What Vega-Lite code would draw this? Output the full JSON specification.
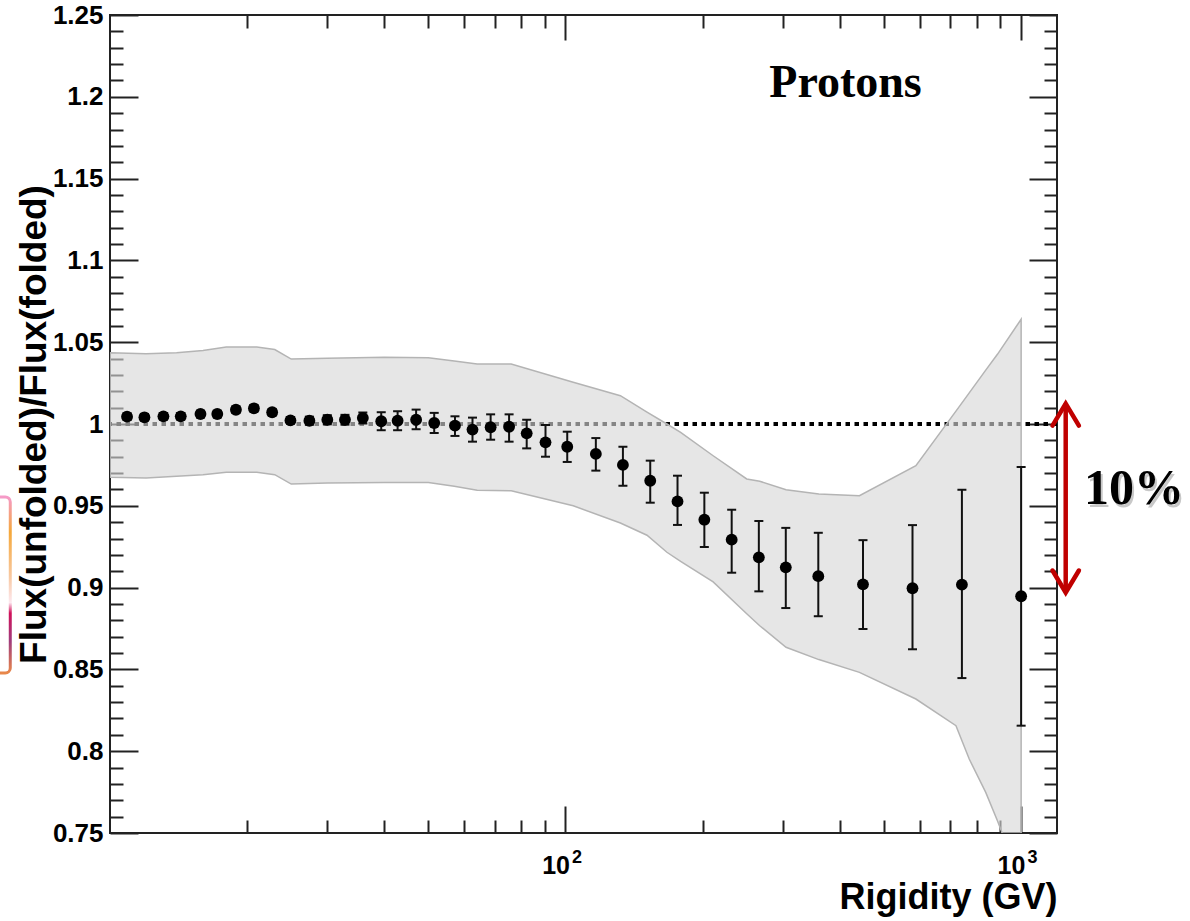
{
  "$schema": "https://vega.github.io/schema/vega-lite/v6.json",
  "width": 947,
  "height": 818,
  "autosize": {"type": "none"},
  "padding": {"left": 110, "top": 15, "right": 133, "bottom": 88},
  "background": "white",
  "view": {"stroke": "#222", "strokeWidth": 2},
  "config": {
    "axis": {
      "domain": false, "grid": false, "tickColor": "#222", "tickWidth": 2,
      "labelFont": "Liberation Sans", "labelFontWeight": "bold", "labelFontSize": 26, "labelColor": "#000",
      "titleFont": "Liberation Sans", "titleFontWeight": "bold", "titleFontSize": 36, "titleColor": "#000",
      "labelOverlap": false, "labelBound": false, "labelFlush": false, "zindex": 2
    }
  },
  "datasets": {
    "band": [
      {"x": 10, "lo": 0.9675, "hi": 1.0435},
      {"x": 12, "lo": 0.967, "hi": 1.043},
      {"x": 14, "lo": 0.968, "hi": 1.0435},
      {"x": 16, "lo": 0.969, "hi": 1.045},
      {"x": 18, "lo": 0.9705, "hi": 1.047},
      {"x": 21, "lo": 0.9705, "hi": 1.047},
      {"x": 23, "lo": 0.969, "hi": 1.0455},
      {"x": 25, "lo": 0.9633, "hi": 1.0397},
      {"x": 30, "lo": 0.964, "hi": 1.0402},
      {"x": 40, "lo": 0.9643, "hi": 1.0408},
      {"x": 50, "lo": 0.9643, "hi": 1.0405},
      {"x": 57, "lo": 0.962, "hi": 1.0385},
      {"x": 64, "lo": 0.9595, "hi": 1.0367},
      {"x": 76, "lo": 0.9592, "hi": 1.0367},
      {"x": 104, "lo": 0.95, "hi": 1.0255},
      {"x": 132, "lo": 0.9395, "hi": 1.0173},
      {"x": 151, "lo": 0.932, "hi": 1.0072},
      {"x": 167, "lo": 0.9216, "hi": 1.0},
      {"x": 179, "lo": 0.916, "hi": 0.9949},
      {"x": 211, "lo": 0.9035, "hi": 0.9806},
      {"x": 250, "lo": 0.884, "hi": 0.9664},
      {"x": 267, "lo": 0.8767, "hi": 0.965},
      {"x": 305, "lo": 0.8635, "hi": 0.9598},
      {"x": 360, "lo": 0.856, "hi": 0.9572},
      {"x": 442, "lo": 0.8482, "hi": 0.9562},
      {"x": 588, "lo": 0.8319, "hi": 0.9745},
      {"x": 720, "lo": 0.8156, "hi": 1.0079},
      {"x": 770, "lo": 0.7952, "hi": 1.019},
      {"x": 837, "lo": 0.7748, "hi": 1.0329},
      {"x": 888, "lo": 0.7575, "hi": 1.0426},
      {"x": 1001, "lo": 0.72, "hi": 1.064}
    ],
    "pts": [
      {"x": 10.9, "y": 1.0045, "lo": 1.0025, "hi": 1.0065},
      {"x": 11.9, "y": 1.0041, "lo": 1.0021, "hi": 1.0061},
      {"x": 13.1, "y": 1.0047, "lo": 1.0027, "hi": 1.0067},
      {"x": 14.3, "y": 1.0047, "lo": 1.0027, "hi": 1.0067},
      {"x": 15.8, "y": 1.0061, "lo": 1.0041, "hi": 1.0081},
      {"x": 17.2, "y": 1.0061, "lo": 1.0041, "hi": 1.0081},
      {"x": 18.9, "y": 1.0087, "lo": 1.0067, "hi": 1.0107},
      {"x": 20.7, "y": 1.0096, "lo": 1.0076, "hi": 1.0116},
      {"x": 22.7, "y": 1.0072, "lo": 1.0052, "hi": 1.0092},
      {"x": 24.9, "y": 1.0022, "lo": 1.0002, "hi": 1.0042},
      {"x": 27.4, "y": 1.002, "lo": 0.9995, "hi": 1.0045},
      {"x": 30.0, "y": 1.0026, "lo": 0.9998, "hi": 1.0054},
      {"x": 32.8, "y": 1.0026, "lo": 0.9996, "hi": 1.0056},
      {"x": 35.9, "y": 1.0037, "lo": 1.0003, "hi": 1.0071},
      {"x": 39.4, "y": 1.0017, "lo": 0.9962, "hi": 1.0072},
      {"x": 42.8, "y": 1.002, "lo": 0.9962, "hi": 1.0078},
      {"x": 47.0, "y": 1.0026, "lo": 0.9968, "hi": 1.0088},
      {"x": 51.5, "y": 1.0006, "lo": 0.9945, "hi": 1.0068},
      {"x": 57.2, "y": 0.999, "lo": 0.9927, "hi": 1.0047},
      {"x": 62.5, "y": 0.9966, "lo": 0.9892, "hi": 1.0039},
      {"x": 68.5, "y": 0.998, "lo": 0.9904, "hi": 1.0059},
      {"x": 75.2, "y": 0.9983, "lo": 0.9892, "hi": 1.0059},
      {"x": 82.2, "y": 0.9943, "lo": 0.9851, "hi": 1.0026},
      {"x": 90.4, "y": 0.9888, "lo": 0.98, "hi": 0.9994},
      {"x": 100.9, "y": 0.9861, "lo": 0.9768, "hi": 0.9953},
      {"x": 116.6, "y": 0.9817, "lo": 0.9715, "hi": 0.9914},
      {"x": 133.7, "y": 0.975, "lo": 0.9623, "hi": 0.9861},
      {"x": 153.5, "y": 0.9653, "lo": 0.9519, "hi": 0.9776},
      {"x": 176.2, "y": 0.9527, "lo": 0.9383, "hi": 0.9684},
      {"x": 201.8, "y": 0.9415, "lo": 0.9248, "hi": 0.958},
      {"x": 231.7, "y": 0.9293, "lo": 0.9091, "hi": 0.9476},
      {"x": 265.8, "y": 0.9185, "lo": 0.8977, "hi": 0.9407},
      {"x": 304.6, "y": 0.9124, "lo": 0.8875, "hi": 0.9365},
      {"x": 359, "y": 0.907, "lo": 0.8825, "hi": 0.9335},
      {"x": 450, "y": 0.902, "lo": 0.8747, "hi": 0.929},
      {"x": 578, "y": 0.8996, "lo": 0.8623, "hi": 0.9382},
      {"x": 742, "y": 0.9018, "lo": 0.8447, "hi": 0.9598},
      {"x": 1001, "y": 0.8947, "lo": 0.8156, "hi": 0.9737}
    ]
  },
  "resolve": {"axis": {"x": "independent", "y": "independent"}},
  "layer": [
    {
      "data": {"values": [{}]},
      "mark": {"type": "rule", "color": "#000", "strokeWidth": 4, "strokeDash": [4.5, 4.5]},
      "encoding": {"y": {"datum": 1, "type": "quantitative", "axis": null}}
    },
    {
      "data": {"name": "band"},
      "mark": {"type": "area", "fill": "#d6d6d6", "fillOpacity": 0.62, "stroke": "#b4b4b4", "strokeWidth": 1.5, "clip": true},
      "encoding": {
        "x": {
          "field": "x", "type": "quantitative",
          "scale": {"type": "log", "domain": [10, 1200], "nice": false},
          "axis": {
            "orient": "bottom", "values": [100, 1000], "tickSize": -27, "labelPadding": 67,
            "labelBaseline": "alphabetic", "labelFontSize": 25, "labelAlign": "right", "labelOffset": 4,
            "labelExpr": "'10'",
            "title": "Rigidity (GV)", "titleX": 947, "titleY": 75, "titleAlign": "right", "titleBaseline": "alphabetic"
          }
        },
        "y": {
          "field": "hi", "type": "quantitative",
          "scale": {"domain": [0.75, 1.25], "nice": false, "zero": false},
          "axis": {
            "orient": "left", "values": [0.75, 0.8, 0.85, 0.9, 0.95, 1, 1.05, 1.1, 1.15, 1.2, 1.25],
            "tickSize": -28, "labelPadding": 35, "labelAlign": "right", "labelBaseline": "middle", "format": "~g",
            "title": "Flux(unfolded)/Flux(folded)", "titleX": -65, "titleY": 409, "titleAngle": 270,
            "titleAlign": "center", "titleBaseline": "alphabetic", "titleFontSize": 37
          }
        },
        "y2": {"field": "lo"}
      }
    },
    {
      "data": {"values": [{}]},
      "mark": {"type": "rect", "fill": "transparent", "strokeWidth": 3, "cornerRadius": 5,
        "stroke": {"gradient": "linear", "x1": 0, "y1": 0, "x2": 0, "y2": 1, "stops": [
          {"offset": 0, "color": "#f59ac8"},
          {"offset": 0.2, "color": "#f5a83a"},
          {"offset": 0.45, "color": "#f8c8a0"},
          {"offset": 0.6, "color": "#fde8f0"},
          {"offset": 0.66, "color": "#d0105a"},
          {"offset": 0.82, "color": "#a03c7c"},
          {"offset": 1, "color": "#e8884a"}
        ]}},
      "encoding": {
        "x": {"datum": 5.25, "type": "quantitative", "axis": null},
        "x2": {"datum": 6.04},
        "y": {"datum": 0.9554, "type": "quantitative", "axis": null},
        "y2": {"datum": 0.8478}
      }
    },
    {
      "data": {"name": "pts"},
      "mark": {"type": "rule", "color": "#111", "strokeWidth": 2},
      "encoding": {
        "x": {
          "field": "x", "type": "quantitative",
          "axis": {"orient": "bottom", "values": [20, 30, 40, 50, 60, 70, 80, 90, 200, 300, 400, 500, 600, 700, 800, 900], "tickSize": -13, "labels": false, "title": null}
        },
        "y": {
          "field": "lo", "type": "quantitative",
          "axis": {"orient": "left", "values": [0.76, 0.77, 0.78, 0.79, 0.81, 0.82, 0.83, 0.84, 0.86, 0.87, 0.88, 0.89, 0.91, 0.92, 0.93, 0.94, 0.96, 0.97, 0.98, 0.99, 1.01, 1.02, 1.03, 1.04, 1.06, 1.07, 1.08, 1.09, 1.11, 1.12, 1.13, 1.14, 1.16, 1.17, 1.18, 1.19, 1.21, 1.22, 1.23, 1.24], "tickSize": -13, "labels": false, "title": null}
        },
        "y2": {"field": "hi"}
      }
    },
    {
      "data": {"name": "pts"},
      "mark": {"type": "tick", "orient": "horizontal", "size": 9, "thickness": 2, "color": "#111", "opacity": 1},
      "encoding": {
        "x": {
          "field": "x", "type": "quantitative",
          "axis": {"orient": "top", "values": [20, 30, 40, 50, 60, 70, 80, 90, 200, 300, 400, 500, 600, 700, 800, 900], "tickSize": -13, "labels": false, "title": null}
        },
        "y": {
          "field": "lo", "type": "quantitative",
          "axis": {"orient": "right", "values": [0.76, 0.77, 0.78, 0.79, 0.81, 0.82, 0.83, 0.84, 0.86, 0.87, 0.88, 0.89, 0.91, 0.92, 0.93, 0.94, 0.96, 0.97, 0.98, 0.99, 1.01, 1.02, 1.03, 1.04, 1.06, 1.07, 1.08, 1.09, 1.11, 1.12, 1.13, 1.14, 1.16, 1.17, 1.18, 1.19, 1.21, 1.22, 1.23, 1.24], "tickSize": -13, "labels": false, "title": null}
        }
      }
    },
    {
      "data": {"name": "pts"},
      "mark": {"type": "tick", "orient": "horizontal", "size": 9, "thickness": 2, "color": "#111", "opacity": 1},
      "encoding": {
        "x": {
          "field": "x", "type": "quantitative",
          "axis": {"orient": "bottom", "values": [100, 1000], "ticks": false, "labelPadding": 29,
            "labelBaseline": "alphabetic", "labelFontSize": 18, "labelAlign": "left", "labelOffset": 6,
            "labelExpr": "datum.value == 100 ? '2' : '3'", "title": null}
        },
        "y": {"field": "hi", "type": "quantitative", "axis": null}
      }
    },
    {
      "data": {"name": "pts"},
      "mark": {"type": "point", "shape": "circle", "filled": true, "size": 140, "color": "#000", "opacity": 1},
      "encoding": {
        "x": {
          "field": "x", "type": "quantitative",
          "axis": {"orient": "top", "values": [100, 1000], "tickSize": -25, "labels": false, "title": null}
        },
        "y": {
          "field": "y", "type": "quantitative",
          "axis": {"orient": "right", "values": [0.75, 0.8, 0.85, 0.9, 0.95, 1, 1.05, 1.1, 1.15, 1.2, 1.25], "tickSize": -28, "labels": false, "title": null}
        }
      }
    },
    {
      "data": {"values": [{}]},
      "mark": {"type": "text", "text": "Protons", "font": "Liberation Serif", "fontWeight": "bold", "fontSize": 46, "align": "center", "baseline": "alphabetic", "color": "#000"},
      "encoding": {
        "x": {"datum": 412, "type": "quantitative", "axis": null},
        "y": {"datum": 1.2, "type": "quantitative", "axis": null}
      }
    },
    {
      "data": {"values": [{}]},
      "mark": {"type": "text", "text": "10%", "font": "Liberation Serif", "fontWeight": "bold", "fontSize": 50, "align": "left", "baseline": "alphabetic", "color": "#777", "opacity": 0.4, "dx": 2, "dy": 3},
      "encoding": {
        "x": {"datum": 1375, "type": "quantitative", "axis": null},
        "y": {"datum": 0.9511, "type": "quantitative", "axis": null}
      }
    },
    {
      "data": {"values": [{}]},
      "mark": {"type": "text", "text": "10%", "font": "Liberation Serif", "fontWeight": "bold", "fontSize": 50, "align": "left", "baseline": "alphabetic", "color": "#000"},
      "encoding": {
        "x": {"datum": 1375, "type": "quantitative", "axis": null},
        "y": {"datum": 0.9511, "type": "quantitative", "axis": null}
      }
    },
    {
      "data": {"values": [{}]},
      "mark": {"type": "rule", "color": "#c00000", "strokeWidth": 4.5},
      "encoding": {
        "x": {"datum": 1254, "type": "quantitative", "axis": null},
        "y": {"datum": 1.0125, "type": "quantitative", "axis": null},
        "y2": {"datum": 0.897}
      }
    },
    {
      "data": {"values": [{}]},
      "mark": {"type": "point", "shape": "M-0.6,1L0,0L0.6,1", "filled": false, "size": 1936, "stroke": "#c00000", "strokeWidth": 4.5, "strokeCap": "round", "opacity": 1},
      "encoding": {
        "x": {"datum": 1254, "type": "quantitative", "axis": null},
        "y": {"datum": 1.0125, "type": "quantitative", "axis": null}
      }
    },
    {
      "data": {"values": [{}]},
      "mark": {"type": "point", "shape": "M-0.6,-1L0,0L0.6,-1", "filled": false, "size": 1936, "stroke": "#c00000", "strokeWidth": 4.5, "strokeCap": "round", "opacity": 1},
      "encoding": {
        "x": {"datum": 1254, "type": "quantitative", "axis": null},
        "y": {"datum": 0.897, "type": "quantitative", "axis": null}
      }
    }
  ]
}
